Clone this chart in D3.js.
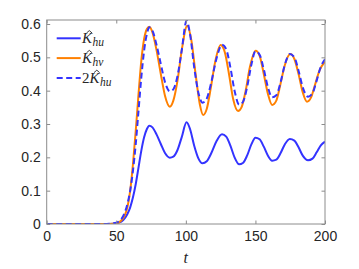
<!DOCTYPE html>
<html>
<head>
<meta charset="utf-8">
<script src="https://cdn.jsdelivr.net/npm/d3@7"></script>
<style>
  body { margin: 0; background: #fff; }
  svg { display: block; }
</style>
</head>
<body>
<svg id="canvas" width="359" height="269"></svg>
<script>
// values
let tHu = [0, 20, 40, 48, 52, 55, 58, 60, 62, 64, 66, 68, 70, 72, 73.7, 76, 79, 82, 85, 88.5, 91, 94, 97, 100.5,
           103, 106, 109, 112, 115, 118, 122, 126, 129, 132, 135, 138.3, 141, 144, 147, 150, 153, 156, 159,
           162, 165, 168, 171, 174.7, 178, 181, 184, 187.8, 191, 194, 197, 200]
let kHu = [0, 0, 0, 0.001, 0.004, 0.012, 0.03, 0.05, 0.08, 0.12, 0.17, 0.22, 0.26, 0.285, 0.295, 0.29, 0.268,
           0.24, 0.213, 0.199, 0.202, 0.222, 0.26, 0.305, 0.285, 0.235, 0.197, 0.182, 0.188, 0.21, 0.248, 0.269,
           0.262, 0.235, 0.2, 0.179, 0.183, 0.205, 0.238, 0.259, 0.254, 0.232, 0.205, 0.19, 0.193, 0.212, 0.238,
           0.255, 0.25, 0.23, 0.205, 0.191, 0.196, 0.215, 0.236, 0.247]
let k2Hu = [0, 0, 0, 0.002, 0.008, 0.024, 0.06, 0.1, 0.16, 0.24, 0.34, 0.44, 0.52, 0.57, 0.59, 0.58, 0.536,
            0.48, 0.426, 0.398, 0.404, 0.444, 0.52, 0.61, 0.57, 0.47, 0.394, 0.364, 0.376, 0.42, 0.496, 0.538,
            0.524, 0.47, 0.4, 0.358, 0.366, 0.41, 0.476, 0.518, 0.508, 0.464, 0.41, 0.38, 0.386, 0.424, 0.476,
            0.51, 0.5, 0.46, 0.41, 0.382, 0.392, 0.43, 0.472, 0.494]

let tHv = [0, 20, 45, 50, 53, 56, 58, 60, 62, 64, 66, 68, 70, 72, 73.7, 76, 79, 82, 85, 88.5, 91, 94, 97, 101,
           104, 107, 110, 112.4, 115, 118, 121, 125, 128, 131, 134, 137.5, 140, 143, 146, 150.2, 153, 156, 159,
           162, 165, 168, 171, 175, 178, 181, 184, 187, 190, 193, 196, 200]
let kHv = [0, 0, 0, 0.002, 0.008, 0.025, 0.05, 0.1, 0.18, 0.28, 0.39, 0.49, 0.555, 0.585, 0.592, 0.575, 0.52,
           0.45, 0.385, 0.352, 0.37, 0.43, 0.52, 0.595, 0.55, 0.45, 0.36, 0.327, 0.345, 0.41, 0.485, 0.537,
           0.515, 0.45, 0.375, 0.339, 0.35, 0.4, 0.47, 0.52, 0.505, 0.45, 0.39, 0.357, 0.37, 0.42, 0.475,
           0.51, 0.495, 0.45, 0.395, 0.367, 0.38, 0.42, 0.46, 0.487]

let xTicks = [0, 50, 100, 150, 200]
let yTicks = [0, 0.1, 0.2, 0.3, 0.4, 0.5, 0.6]

let blue = '#3333ff'
let orange = '#ff8000'
let axisColor = '#8c8c8c'
let textColor = '#262626'

let mLeft = 46.7, mRight = 325, mTop = 20, mBottom = 224

let canvas = d3.select('#canvas')

let xScale = d3.scaleLinear().domain([0, 200]).range([mLeft, mRight])
let yScale = d3.scaleLinear().domain([0, 0.612]).range([mBottom, mTop])

canvas.append('defs').append('clipPath').attr('id', 'plotClip')
    .append('rect')
    .attr('x', mLeft).attr('y', mTop)
    .attr('width', mRight - mLeft).attr('height', mBottom - mTop)

let line = (ts) => d3.line()
    .x((d, i) => xScale(ts[i]))
    .y(d => yScale(d))
    .curve(d3.curveMonotoneX)

let plot = canvas.append('g').attr('clip-path', 'url(#plotClip)')

plot.append('path').datum(kHu)
    .attr('d', line(tHu))
    .attr('fill', 'none').attr('stroke', blue).attr('stroke-width', 2)

plot.append('path').datum(kHv)
    .attr('d', line(tHv))
    .attr('fill', 'none').attr('stroke', orange).attr('stroke-width', 2)

plot.append('path').datum(k2Hu)
    .attr('d', line(tHu))
    .attr('fill', 'none').attr('stroke', blue).attr('stroke-width', 2)
    .attr('stroke-dasharray', '6,3.5')

// axes, ticks pointing inward on all four sides
let styleAxis = (g) => {
    g.select('.domain').remove()
    g.selectAll('.tick line').attr('stroke', axisColor)
    g.selectAll('.tick text').attr('fill', textColor)
        .style('font-family', '"Liberation Sans", Arial, sans-serif').style('font-size', '14px')
}

canvas.append('g')
    .attr('transform', `translate(0,${mBottom})`)
    .call(d3.axisBottom(xScale).tickValues(xTicks).tickFormat(d3.format('d')).tickSizeInner(-3.5).tickPadding(7))
    .call(styleAxis)

canvas.append('g')
    .attr('transform', `translate(0,${mTop})`)
    .call(d3.axisTop(xScale).tickValues(xTicks).tickSizeInner(-3.5).tickFormat(''))
    .call(styleAxis)

canvas.append('g')
    .attr('transform', `translate(${mLeft},0)`)
    .call(d3.axisLeft(yScale).tickValues(yTicks).tickFormat(d => d === 0 ? '0' : d3.format('.1f')(d)).tickSizeInner(-3.5).tickPadding(6))
    .call(styleAxis)

canvas.append('g')
    .attr('transform', `translate(${mRight},0)`)
    .call(d3.axisRight(yScale).tickValues(yTicks).tickSizeInner(-3.5).tickFormat(''))
    .call(styleAxis)

canvas.append('rect')
    .attr('x', mLeft).attr('y', mTop)
    .attr('width', mRight - mLeft).attr('height', mBottom - mTop)
    .attr('fill', 'none').attr('stroke', axisColor).attr('stroke-width', 1)

// x label
canvas.append('text')
    .attr('x', xScale(100)).attr('y', 263)
    .attr('text-anchor', 'middle')
    .style('font-family', '"Liberation Serif", "DejaVu Serif", serif')
    .style('font-style', 'italic').style('font-size', '16px')
    .attr('fill', textColor)
    .text('t')

// legend (no box)
let legendItems = [
    {prefix: '', dash: null, color: blue},
    {prefix: '', dash: null, color: orange, sub: 'hv'},
    {prefix: '2', dash: '6,3.5', color: blue}
]
let serif = '"Liberation Serif", "DejaVu Serif", serif'

legendItems.forEach((item, i) => {
    let y = 38.3 + i * 19.8
    canvas.append('line')
        .attr('x1', 56.7).attr('x2', 80.7).attr('y1', y).attr('y2', y)
        .attr('stroke', item.color).attr('stroke-width', 2)
        .attr('stroke-dasharray', item.dash)

    let x0 = 82
    let txt = canvas.append('text')
        .attr('x', x0).attr('y', y + 5)
        .style('font-family', serif).style('font-size', '15px')
        .attr('fill', textColor)
    if (item.prefix) {
        txt.append('tspan').text(item.prefix)
    }
    txt.append('tspan').style('font-style', 'italic').text('K')
    txt.append('tspan').style('font-style', 'italic').style('font-size', '11.5px')
        .attr('dx', 0.5).attr('dy', 3).text(item.sub || 'hu')

    // the hat over K, drawn as a small chevron
    let hx = x0 + (item.prefix ? 7.5 : 0) + 7.3
    canvas.append('path')
        .attr('d', `M${hx - 2.8},${y - 5.3} L${hx},${y - 7.7} L${hx + 2.8},${y - 5.3}`)
        .attr('fill', 'none').attr('stroke', textColor).attr('stroke-width', 0.9)
})
</script>
</body>
</html>
